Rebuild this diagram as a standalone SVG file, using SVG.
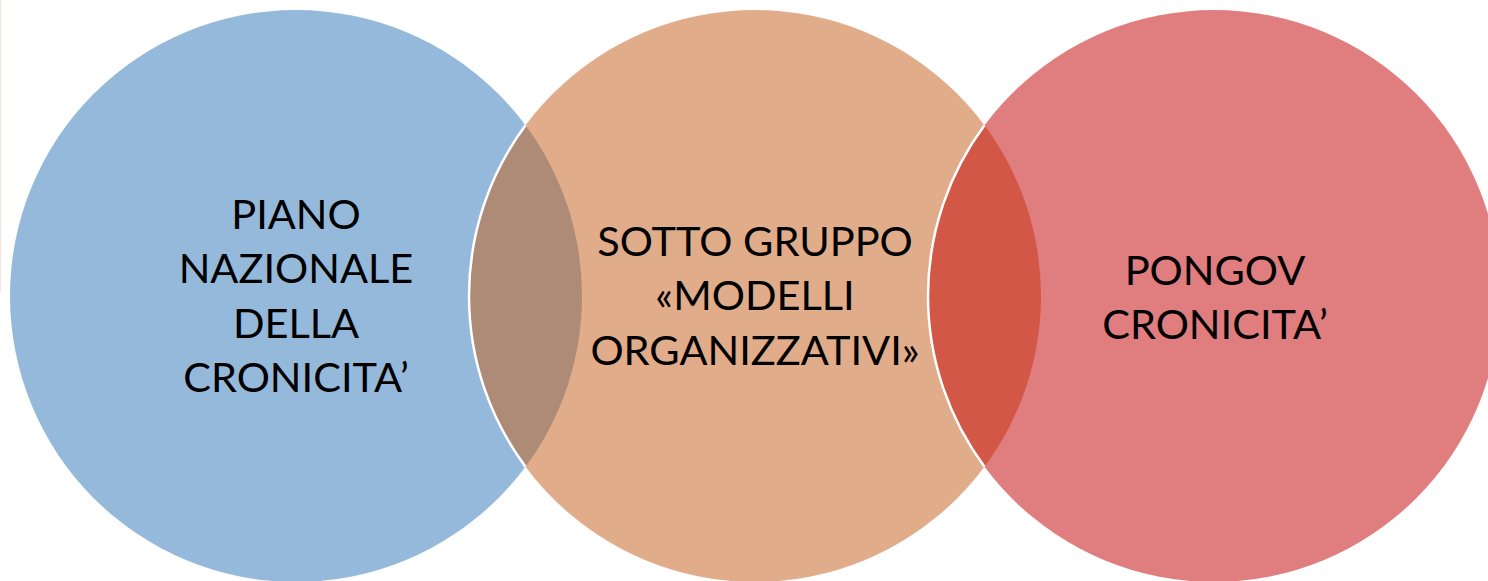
<svg xmlns="http://www.w3.org/2000/svg" width="1488" height="581" viewBox="0 0 1488 581">
  <style>
    .lbl { font-family: Lato, "Open Sans", "Liberation Sans", sans-serif; font-size: 41.5px; fill: #000000; text-anchor: middle; }
    .edge { fill: none; stroke: #ffffff; stroke-width: 2.5; }
  </style>
  <rect x="0" y="0" width="1488" height="581" fill="#ffffff"/>
  <line x1="0.5" y1="0" x2="0.5" y2="292" stroke="#f6e3dd" stroke-width="1"/>
  <g id="node-piano">
    <circle cx="296" cy="296" r="286" fill="#95b9da"/>
  </g>
  <g id="node-sottogruppo">
    <circle cx="755" cy="296" r="286" fill="#e1ac89"/>
  </g>
  <g id="node-pongov">
    <circle cx="1214" cy="296" r="286" fill="#e07d7e"/>
  </g>
  <g id="overlap-left">
    <path d="M525.5 125.34 A286 286 0 0 1 525.5 466.66 A286 286 0 0 1 525.5 125.34 Z" fill="#ad8b76"/>
    <path class="edge" d="M525.5 125.34 A286 286 0 0 0 525.5 466.66"/>
  </g>
  <g id="overlap-right">
    <path d="M984.5 125.34 A286 286 0 0 1 984.5 466.66 A286 286 0 0 1 984.5 125.34 Z" fill="#d25746"/>
    <path class="edge" d="M984.5 125.34 A286 286 0 0 0 984.5 466.66"/>
  </g>
  <g id="labels">
    <text class="lbl" x="296" y="229">PIANO</text>
    <text class="lbl" x="296" y="283">NAZIONALE</text>
    <text class="lbl" x="296" y="338">DELLA</text>
    <text class="lbl" x="296" y="392">CRONICITA’</text>
    <text class="lbl" x="755" y="256">SOTTO GRUPPO</text>
    <text class="lbl" x="755" y="310">«MODELLI</text>
    <text class="lbl" x="755" y="365">ORGANIZZATIVI»</text>
    <text class="lbl" x="1215" y="285">PONGOV</text>
    <text class="lbl" x="1215" y="339">CRONICITA’</text>
  </g>
</svg>
